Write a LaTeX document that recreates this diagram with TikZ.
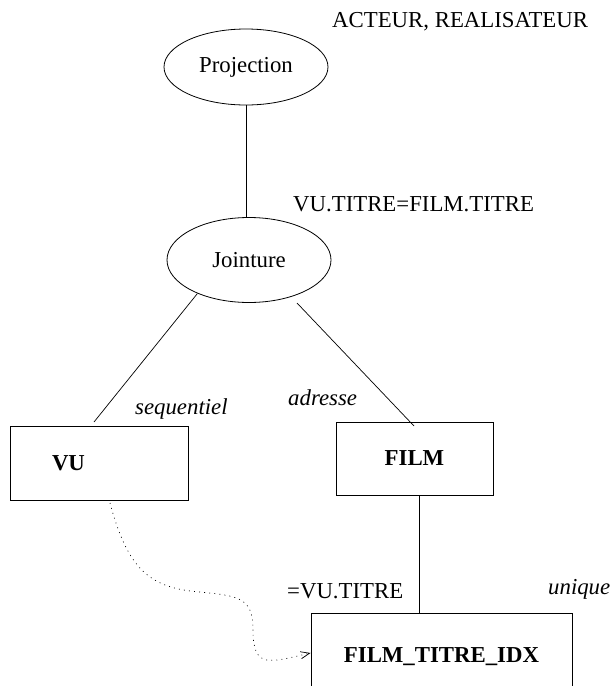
\documentclass[tikz,border=0pt]{standalone}
\usepackage{fontspec}
\setmainfont{Liberation Serif}
\usetikzlibrary{shapes.geometric,arrows.meta}
\begin{document}
\begin{tikzpicture}[x=1pt,y=-1pt,
  font=\fontsize{22.8}{27}\selectfont,
  oval/.style={ellipse,draw,line width=0.8pt,inner sep=0pt},
  box/.style={rectangle,draw,line width=0.8pt,inner sep=0pt,font=\fontsize{22.8}{27}\selectfont\bfseries},
  link/.style={line width=0.7pt},
  lbl/.style={anchor=base west,inner sep=0pt}]
\useasboundingbox (0,0) rectangle (611,686);
\clip (0,0) rectangle (611,686);
% nodes
\node[oval,minimum width=164pt,minimum height=76pt] (proj) at (246,67) {Projection};
\node[oval,minimum width=164pt,minimum height=85pt] (joint) at (249,260) {Jointure};
\node[box,minimum width=178pt,minimum height=74pt,text width=94pt,align=left,inner xsep=42pt] (vu) at (99,463) {VU};
\node[box,minimum width=157pt,minimum height=73pt] (film) at (414.5,458.5) {FILM};
\node[box,minimum width=261pt,minimum height=88pt] (idx) at (441.5,657) {FILM\_TITRE\_IDX};
% labels
\node[lbl] (acteur) at (332,27) {ACTEUR, REALISATEUR};
\node[lbl] (cond) at (293,211) {VU.TITRE=FILM.TITRE};
\node[lbl] (seq) at (135,414) {\itshape sequentiel};
\node[lbl] (adr) at (288,405) {\itshape adresse};
\node[lbl] (eqvu) at (287,598) {=VU.TITRE};
\node[lbl] (uniq) at (548,594) {\itshape unique};
% free ends
\coordinate (vuend) at (94,422);
\coordinate (jr) at (297,303);
\coordinate (filmend) at (414,426);
\coordinate (ds) at (110,503);
% connectors
\draw[link] (proj.south) -- (proj.south |- joint.north);
\draw[link] (joint.213) -- (vuend);
\draw[link] (jr) -- (filmend);
\draw[link] ([xshift=4.5pt]film.south) -- ([xshift=4.5pt]film.south |- idx.north);
\draw[link,dash pattern=on 0.9pt off 4.2pt,-{Straight Barb[length=9pt,width=7pt]}]
  (ds) .. controls (128,570) and (150,588) .. (200,592)
       .. controls (240,596) and (253,598) .. (253,630)
       .. controls (253,670) and (270,662) .. ([yshift=4pt]idx.west);
\end{tikzpicture}
\end{document}
